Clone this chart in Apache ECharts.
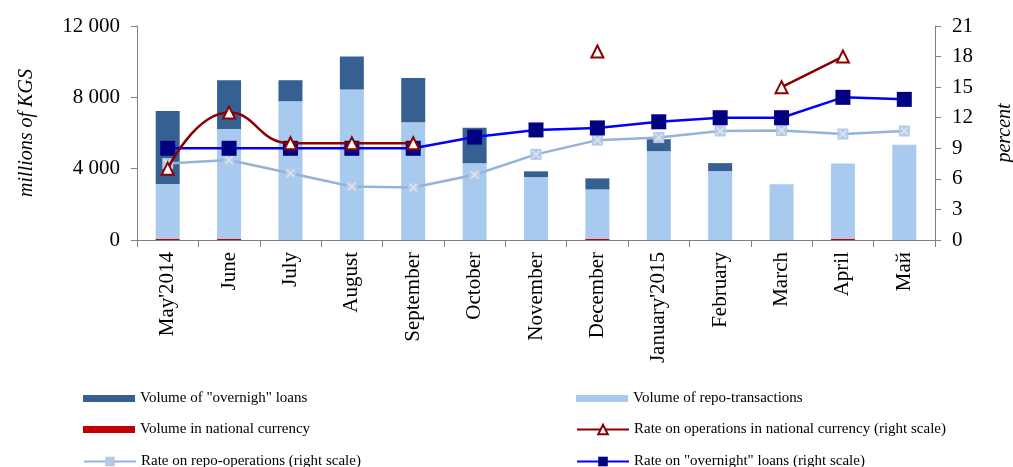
<!DOCTYPE html>
<html>
<head>
<meta charset="utf-8">
<script src="https://cdn.jsdelivr.net/npm/echarts@6/dist/echarts.min.js"></script>
<style>html,body{margin:0;padding:0;background:#fff;}#c{width:1013px;height:467px;}</style>
</head>
<body>
<div id="c"></div>
<script>
const categories = ["May'2014","June","July","August","September","October","November","December","January'2015","February","March","April","Май"];
const volNational = [70,60,20,0,0,0,0,70,0,0,20,70,0];
const volRepo = [3070,6170,7760,8440,6600,4310,3530,2770,4980,3860,3100,4225,5340];
const volOvernight = [4100,2730,1180,1850,2480,1980,320,615,670,450,0,0,0];
const rateRepo = [7.5,7.85,6.55,5.25,5.15,6.4,8.4,9.8,10.05,10.7,10.75,10.4,10.7];
const rateOvernight = [9.0,9.0,9.0,9.0,9.0,10.1,10.8,11.0,11.6,12.0,12.0,14.0,13.8];
const rateNational = [7.0,12.5,9.5,9.5,9.5,null,null,18.5,null,null,15.0,18.0,null];
const leftTicks = {min:0, max:12000, interval:4000};
const rightTicks = {min:0, max:21, interval:3};

const names = {
  over: 'Volume of "overnigh" loans',
  repo: 'Volume of repo-transactions',
  nat: 'Volume in national currency',
  rNat: 'Rate on operations in national currency (right scale)',
  rRepo: 'Rate on repo-operations (right scale)',
  rOver: 'Rate on "overnight" loans (right scale)'
};
const serif = 'Liberation Serif, Times New Roman, serif';
const axisCol = '#808080';
function fmt(v){ return String(v).replace(/\B(?=(\d{3})+(?!\d))/g,' '); }

function leg(name, left, cy, isBar){
  const h = isBar ? 7 : 12;
  const o = {
    data:[name], left:left, top: cy - 6, padding:0,
    itemWidth:52, itemHeight:h, itemGap:0,
    textStyle:{fontFamily:serif, fontSize:15, color:'#000'},
    selectedMode:false
  };
  if (isBar) o.icon = 'rect';
  return o;
}

const chart = echarts.init(document.getElementById('c'));
chart.setOption({
  animation:false,
  backgroundColor:'#fff',
  grid:{left:137, right:78, top:26, bottom:227, containLabel:false, outerBoundsMode:'none'},
  legend:[
    leg(names.over, 83, 397, true),
    leg(names.repo, 576, 397, true),
    leg(names.nat, 83, 428, true),
    leg(names.rNat, 576, 428, false),
    leg(names.rRepo, 83, 460, false),
    leg(names.rOver, 576, 460, false)
  ],
  xAxis:{
    type:'category', data:categories, boundaryGap:true,
    axisLine:{lineStyle:{color:axisCol, width:1}},
    axisTick:{show:true, length:7, lineStyle:{color:axisCol}},
    axisLabel:{rotate:90, margin:12, fontFamily:serif, fontSize:21, color:'#000', interval:0}
  },
  yAxis:[
    {
      type:'value', min:leftTicks.min, max:leftTicks.max, interval:leftTicks.interval,
      name:'millions of KGS', nameLocation:'middle', nameRotate:90, nameGap:100,
      nameTextStyle:{fontFamily:serif, fontSize:20, fontStyle:'italic', color:'#000'},
      axisLine:{show:true, lineStyle:{color:axisCol}},
      axisTick:{show:true, length:6, lineStyle:{color:axisCol}},
      splitLine:{show:false},
      axisLabel:{margin:17, fontFamily:serif, fontSize:21, color:'#000', formatter:fmt}
    },
    {
      type:'value', position:'right', min:rightTicks.min, max:rightTicks.max, interval:rightTicks.interval,
      name:'percent', nameLocation:'middle', nameRotate:90, nameGap:60,
      nameTextStyle:{fontFamily:serif, fontSize:20, fontStyle:'italic', color:'#000'},
      axisLine:{show:true, lineStyle:{color:axisCol}},
      axisTick:{show:true, length:6, lineStyle:{color:axisCol}},
      splitLine:{show:false},
      axisLabel:{margin:17, fontFamily:serif, fontSize:21, color:'#000'}
    }
  ],
  series:[
    {name:names.nat, type:'bar', stack:'v', barWidth:24, data:volNational, itemStyle:{color:'#C00000'}},
    {name:names.repo, type:'bar', stack:'v', barWidth:24, data:volRepo, itemStyle:{color:'#A8CAEE'}},
    {name:names.over, type:'bar', stack:'v', barWidth:24, data:volOvernight, itemStyle:{color:'#376092'}},
    {name:names.rRepo, type:'line', yAxisIndex:1, data:rateRepo, z:3,
      symbol:'rect', symbolSize:11, showAllSymbol:true,
      lineStyle:{color:'#95B3D7', width:2.5}, itemStyle:{color:'#B4C9E4'}},
    {name:'repoX', type:'scatter', yAxisIndex:1, data:rateRepo, z:4, silent:true,
      symbol:'path://M0,0 L3,0 L10,7 L17,0 L20,0 L20,3 L13,10 L20,17 L20,20 L17,20 L10,13 L3,20 L0,20 L0,17 L7,10 L0,3 Z',
      symbolSize:8, itemStyle:{color:'rgba(235,242,250,0.85)'}},
    {name:names.rOver, type:'line', yAxisIndex:1, data:rateOvernight, z:5,
      symbol:'rect', symbolSize:15, showAllSymbol:true,
      lineStyle:{color:'#0000FF', width:2.5}, itemStyle:{color:'#000080'}},
    {name:names.rNat, type:'line', yAxisIndex:1, data:rateNational, z:6, smooth:true, connectNulls:false,
      symbol:'triangle', symbolSize:12, showAllSymbol:true,
      lineStyle:{color:'#8B0000', width:2.5}, itemStyle:{color:'#fff', borderColor:'#8B0000', borderWidth:2}}
  ]
});
</script>
</body>
</html>
